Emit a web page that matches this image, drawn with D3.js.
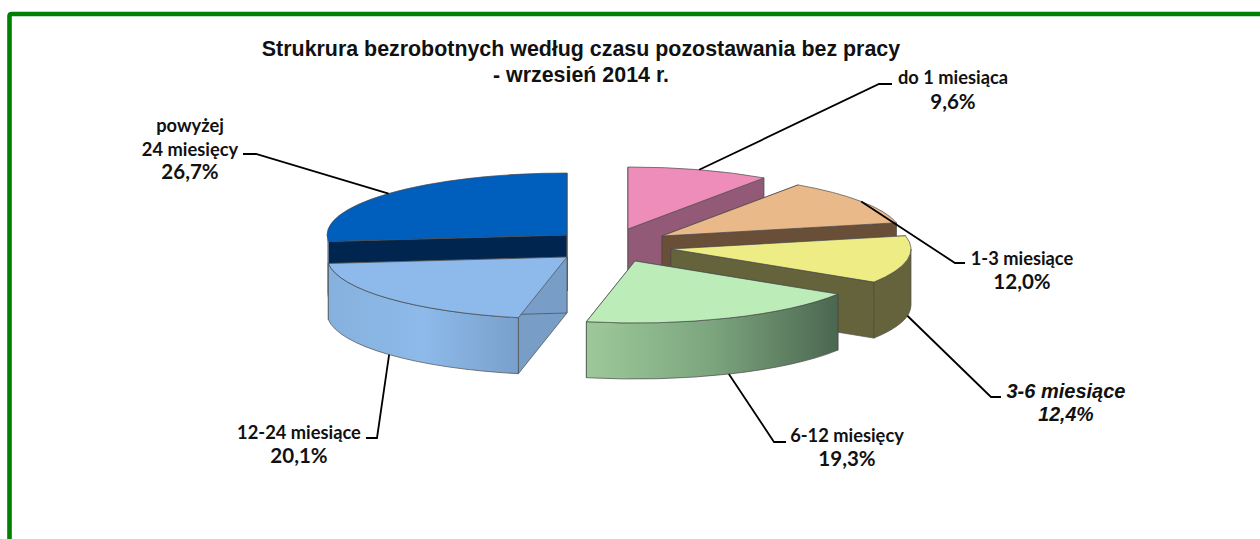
<!DOCTYPE html>
<html>
<head>
<meta charset="utf-8">
<script src="https://cdn.jsdelivr.net/npm/d3@7"></script>
<style>
  html, body { margin: 0; padding: 0; background: #fff; overflow: hidden; }
  svg { display: block; }
</style>
</head>
<body>
<div id="chart"></div>
<script>
// Data
const categories = ['do 1 miesiąca', '1-3 miesiące', '3-6 miesiące', '6-12 miesięcy', '12-24 miesiące', 'powyżej 24 miesięcy'];
const shares = [9.6, 12.0, 12.4, 19.3, 20.1, 26.7];
const titleLines = ['Strukrura bezrobotnych według czasu pozostawania bez pracy', '- wrzesień 2014 r.'];

// Layout and style
const W = 1260, H = 539;
const center = { x: 600, y: 245 };
const rx = 240, ry = 62, depth = 56;
const explode = [[28, -16], [62, -9], [71, 4], [35, 16], [-33, 12], [-33, -10]];
const topColors = ['#ee8cba', '#eab98a', '#eeec85', '#bcedb9', '#8db9eb', '#005ebd'];
const wallColors = ['#935a78', '#6b4f38', '#65633a', '#4c6650', '#789ec7', '#00264f'];
const wallGradients = [null, null, null, ['#9dc99a', '#7ca57e', '#4c6650'], ['#86b1de', '#8dbaea', '#79a0cb'], ['#8fb0d8', '#8fb0d8']];
const drawOrder = [0, 1, 2, 5, 4, 3];

// Leader elbows and label anchors, one per slice
const elbows = [[879, 84, 892, 84], [955, 263, 965, 263], [991, 397, 1001, 397], [774, 442, 786, 442], [377, 438, 366, 438], [256, 154, 243, 154]];
const labelLines = [['do 1 miesiąca'], ['1-3 miesiące'], ['3-6 miesiące'], ['6-12 miesięcy'], ['12-24 miesiące'], ['powyżej', '24 miesięcy']];
const labelX = [953, 1022, 1066, 847, 299, 190];
const labelY = [84, 265, 398, 442, 439, 132];
const labelStep = [25, 24, 23, 24, 24, 23.5];

const svg = d3.select('#chart').append('svg')
  .attr('width', W).attr('height', H)
  .attr('viewBox', `0 0 ${W} ${H}`);

const defs = svg.append('defs');
defs.append('filter').attr('id', 'soft')
  .attr('x', '-5%').attr('y', '-5%').attr('width', '110%').attr('height', '110%')
  .append('feGaussianBlur').attr('stdDeviation', 0.55);

wallGradients.forEach((stops, i) => {
  if (!stops) return;
  const g = defs.append('linearGradient').attr('id', `wall-${i}`);
  stops.forEach((c, k) => {
    g.append('stop').attr('offset', k / (stops.length - 1)).attr('stop-color', c);
  });
});

// Green frame runs off the right and bottom of the window
svg.append('path')
  .attr('d', `M9.5,${H + 10} V16 Q9.5,14 12,14 H${W + 10}`)
  .attr('fill', 'none').attr('stroke', '#008000').attr('stroke-width', 4.6);

// Title
svg.append('g').selectAll('text').data(titleLines).join('text')
  .attr('x', 581)
  .attr('y', (d, i) => 56 + i * 26)
  .attr('text-anchor', 'middle')
  .attr('font-family', '"Liberation Sans", Arial, sans-serif')
  .attr('font-weight', 'bold').attr('font-size', 21.4)
  .attr('fill', '#111')
  .text(d => d);

// Slices come from d3.pie, then get flattened to an ellipse
const arcs = d3.pie().sort(null).value(d => d)(shares);
const pt = (i, a, dz = 0) => {
  const ax = center.x + explode[i][0], ay = center.y + explode[i][1];
  return [ax + rx * Math.sin(a), ay - ry * Math.cos(a) + dz];
};
const apex = (i, dz = 0) => [center.x + explode[i][0], center.y + explode[i][1] + dz];

const pie = svg.append('g').attr('filter', 'url(#soft)')
  .attr('stroke', '#4a4a4a').attr('stroke-width', 0.7).attr('stroke-linejoin', 'round');

function radialWall(i, a) {
  const p = pt(i, a), q = pt(i, a, depth), c0 = apex(i), c1 = apex(i, depth);
  return `M${c0} L${p} L${q} L${c1} Z`;
}

drawOrder.forEach(i => {
  const d = arcs[i];
  // Radial walls; back facing ones end up hidden under the top and outer wall
  [d.startAngle, d.endAngle].forEach(a => {
    pie.append('path').attr('d', radialWall(i, a)).attr('fill', wallColors[i]);
  });

  // Outer wall, only the part turned to the viewer
  const a0 = Math.max(d.startAngle, Math.PI / 2), a1 = Math.min(d.endAngle, 3 * Math.PI / 2);
  if (a1 > a0) {
    const p0 = pt(i, a0), p1 = pt(i, a1), q1 = pt(i, a1, depth), q0 = pt(i, a0, depth);
    pie.append('path')
      .attr('d', `M${p0} A${rx},${ry} 0 0 1 ${p1} L${q1} A${rx},${ry} 0 0 0 ${q0} Z`)
      .attr('fill', wallGradients[i] ? `url(#wall-${i})` : wallColors[i])
      .attr('stroke', i === 5 ? 'none' : null);
  }

  // Top face
  const s = pt(i, d.startAngle), e = pt(i, d.endAngle);
  pie.append('path')
    .attr('d', `M${apex(i)} L${s} A${rx},${ry} 0 0 1 ${e} Z`)
    .attr('fill', topColors[i]);
});

// Leader lines start at the middle of each slice's outer edge
const leaders = svg.append('g').attr('fill', 'none').attr('stroke', '#000').attr('stroke-width', 1.8);
arcs.forEach((d, i) => {
  const mid = (d.startAngle + d.endAngle) / 2;
  const front = mid > Math.PI / 2 && mid < 1.4 * Math.PI;
  const start = pt(i, mid, front ? depth : 0);
  const el = elbows[i];
  leaders.append('path').attr('d', `M${start} L${el[0]},${el[1]} L${el[2]},${el[3]}`);
});

// Labels
const labelFont = 'Lato, Carlito, Calibri, sans-serif';
const arialFont = '"Liberation Sans", Arial, sans-serif';
categories.forEach((c, i) => {
  const italic = i === 2;
  const lines = labelLines[i];
  const g = svg.append('g').attr('text-anchor', 'middle').attr('font-weight', 'bold').attr('fill', '#111');
  lines.forEach((t, k) => {
    g.append('text')
      .attr('x', labelX[i]).attr('y', labelY[i] + k * labelStep[i])
      .attr('font-family', italic ? arialFont : labelFont)
      .attr('font-size', italic ? 20 : 18.3)
      .attr('font-style', italic ? 'italic' : null)
      .text(t);
  });
  g.append('text')
    .attr('x', labelX[i]).attr('y', labelY[i] + lines.length * labelStep[i])
    .attr('font-family', italic ? arialFont : labelFont)
    .attr('font-size', italic ? 19.5 : 20.5)
    .attr('font-style', italic ? 'italic' : null)
    .text(d3.format('.1f')(shares[i]).replace('.', ',') + '%');
});
</script>
</body>
</html>
